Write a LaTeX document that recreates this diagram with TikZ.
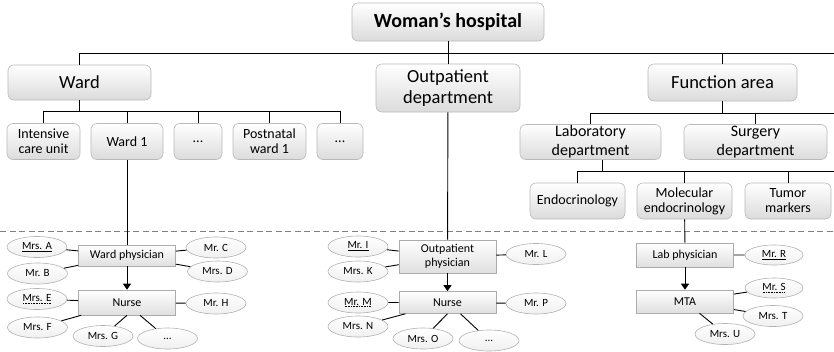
\documentclass[tikz,border=0pt]{standalone}
\usepackage{fontspec}
\setmainfont{Carlito}
\usetikzlibrary{shapes.geometric,arrows.meta}
\newcommand\dotul[1]{\setbox0\hbox{#1}\vtop{\copy0\nointerlineskip\kern1.2pt
  \hbox to\wd0{\leaders\hbox to 1.6pt{\hss\vrule width0.8pt height0.5pt\hss}\hfill}}}
\begin{document}
\begin{tikzpicture}
  [x=1pt,y=-1pt,line width=0.9pt,
   unit/.style ={draw=gray!55,line width=0.6pt,rounded corners=6pt,top color=white,bottom color=gray!28,align=center,inner sep=0pt},
   person/.style ={draw=gray!65,line width=0.6pt,top color=white,bottom color=gray!25,align=center,inner sep=0pt,minimum width=97pt,font=\fontsize{12}{14}\selectfont},
   staff/.style ={draw=gray!60,line width=0.6pt,ellipse,top color=white,bottom color=gray!12,minimum width=60pt,minimum height=21pt,inner sep=0pt,font=\fontsize{11}{12}\selectfont},
   lvltwo/.style ={unit,font=\fontsize{18.5}{21}\selectfont},
   lvlthree/.style ={unit,font=\fontsize{14}{15}\selectfont,minimum height=36pt},
   lead/.style ={-{Triangle[length=6pt,width=8pt]}}]
  \useasboundingbox (0,0) rectangle (834,351);
  % top of the tree
  \node[unit,font=\fontsize{20}{22}\bfseries,minimum width=192pt,minimum height=38pt] (hosp) at (448,22) {Woman’s hospital};
  \node[lvltwo,minimum width=143pt,minimum height=35pt] (ward) at (79.5,82.5) {Ward};
  \node[lvltwo,minimum width=144pt,minimum height=48pt] (outpt) at (448,88) {Outpatient\\department};
  \node[lvltwo,minimum width=149pt,minimum height=37pt] (func) at (722.5,82.5) {Function area};
  \coordinate (busR) at (834,53);
  \draw (ward.north) |- (busR) (hosp) -- (outpt) (func.north) -- (func.north |- busR);
  % wards
  \node[lvlthree,minimum width=73pt] (icu) at (43.5,141.5) {Intensive\\care unit};
  \node[lvlthree,minimum width=72pt] (w1) at (127,141.5) {Ward 1};
  \node[lvlthree,minimum width=48pt] (wdotsa) at (198,141.5) {...};
  \node[lvlthree,minimum width=73pt] (pnw) at (269.5,141.5) {Postnatal\\ward 1};
  \node[lvlthree,minimum width=46pt] (wdotsb) at (340,141.5) {...};
  \coordinate (busW) at (0,111);
  \draw (icu.north) |- (wdotsb.north |- busW) -- (wdotsb.north);
  \foreach \n in {ward,w1,wdotsa,pnw}
    \draw (\n) -- (\n |- busW);
  % function area
  \node[unit,font=\fontsize{16}{19}\selectfont,minimum width=141pt,minimum height=35pt] (lab) at (590.5,142) {Laboratory\\department};
  \node[unit,font=\fontsize{16}{19}\selectfont,minimum width=143pt,minimum height=35pt] (surg) at (755.5,142) {Surgery\\department};
  \coordinate (busF) at (834,113);
  \draw (lab.north) |- (busF) (func) -- (func |- busF) (surg) -- (surg |- busF);
  \node[lvlthree,minimum width=95pt] (endo) at (577.5,201) {Endocrinology};
  \node[lvlthree,minimum width=95pt] (molec) at (684.5,201) {Molecular\\endocrinology};
  \node[lvlthree,minimum width=86pt] (tumor) at (788,201) {Tumor\\markers};
  \coordinate (busL) at (834,171);
  \draw (endo.north) |- (busL) ([xshift=12pt]lab.south) -- ([xshift=12pt]lab.south |- busL)
    (molec) -- (molec |- busL) (tumor) -- (tumor |- busL);
  % separator
  \coordinate (sepL) at (0,231.5);
  \coordinate (sepR) at (834,231.5);
  \draw[gray,line width=0.7pt,dash pattern=on 6pt off 3.5pt] (sepL) -- (sepR);
  % ward staff
  \node[person,minimum height=21pt] (wphys) at (127,255.5) {Ward physician};
  \node[person,minimum height=25pt] (wnurse) at (127,302.5) {Nurse};
  \node[staff] (mrsa) at (37,247) {\underline{Mrs. A}};
  \node[staff] (mrb) at (37.5,273.5) {Mr. B};
  \node[staff] (mrc) at (216,247.5) {Mr. C};
  \node[staff] (mrsd) at (217.5,271.5) {Mrs. D};
  \node[staff] (mrse) at (37,299) {\dotul{Mrs. E}};
  \node[staff] (mrsf) at (37.5,327.5) {Mrs. F};
  \node[staff] (mrh) at (216,303.5) {Mr. H};
  \node[staff] (mrsg) at (103,336) {Mrs. G};
  \node[staff] (wdotsc) at (167.5,338.5) {...};
  \draw (w1) -- (wphys);
  \draw[lead] (wphys) -- (wnurse);
  \draw (wphys) -- (mrsa) (wphys) -- (mrb) (wphys) -- (mrc) (wphys) -- (mrsd);
  \draw (wnurse) -- (mrse) (wnurse) -- (mrsf) (wnurse) -- (mrh)
    (wnurse.south) -- (mrsg) ([xshift=13pt]wnurse.south) -- (wdotsc);
  % outpatient staff
  \node[person,minimum height=33pt] (ophys) at (447.5,256.5) {Outpatient\\physician};
  \node[person,minimum height=22pt] (onurse) at (447.5,302.5) {Nurse};
  \node[staff] (mri) at (358,246.5) {\underline{Mr. I}};
  \node[staff] (mrsk) at (358,271.5) {Mrs. K};
  \node[staff] (mrl) at (536,254) {Mr. L};
  \node[staff] (mrm) at (358,302.5) {\dotul{Mr. M}};
  \node[staff] (mrsn) at (358,326.5) {Mrs. N};
  \node[staff] (mrp) at (536,303.5) {Mr. P};
  \node[staff] (mrso) at (423,338.5) {Mrs. O};
  \node[staff] (odots) at (489,340.5) {...};
  \draw (outpt) -- (ophys);
  \draw[lead] (ophys) -- (onurse);
  \draw (ophys) -- (mri) (ophys) -- (mrsk) (ophys) -- (mrl);
  \draw (onurse) -- (mrm) (onurse) -- (mrsn) (onurse) -- (mrp)
    (onurse.south) -- (mrso) ([xshift=13pt]onurse.south) -- (odots);
  % lab staff
  \node[person,minimum height=24pt] (lphys) at (685,255) {Lab physician};
  \node[person,minimum height=23pt] (mta) at (685,301.5) {MTA};
  \node[staff,minimum width=58pt,minimum height=20pt] (mrr) at (774,255) {\underline{Mr. R}};
  \node[staff,minimum width=58pt,minimum height=20pt] (mrs) at (774,288) {\dotul{Mr. S}};
  \node[staff] (mrst) at (773,316) {Mrs. T};
  \node[staff] (mrsu) at (725,334) {Mrs. U};
  \draw (molec) -- (lphys);
  \draw[lead] (lphys) -- (mta);
  \draw (lphys) -- (mrr) (mta) -- (mrs) (mta) -- (mrst) (mta) -- (mrsu);
\end{tikzpicture}
\end{document}
